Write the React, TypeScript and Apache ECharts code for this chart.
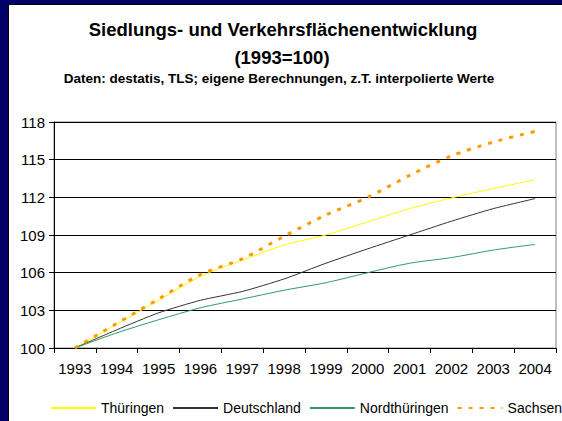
import React, { useEffect, useRef } from "react";
import * as echarts from "echarts";

const years = ["1993", "1994", "1995", "1996", "1997", "1998", "1999", "2000", "2001", "2002", "2003", "2004"];
const thueringen = [100, 101.9, 103.8, 105.7, 107.0, 108.2, 109.0, 110.05, 111.1, 111.95, 112.7, 113.4];
const deutschland = [100, 101.45, 102.8, 103.8, 104.5, 105.5, 106.75, 107.9, 109.0, 110.1, 111.1, 111.9];
const nordthueringen = [100, 101.2, 102.25, 103.2, 103.9, 104.6, 105.2, 106.0, 106.75, 107.2, 107.8, 108.25];
const sachsen = [100, 101.95, 103.9, 105.85, 107.1, 108.9, 110.6, 112.0, 113.75, 115.3, 116.4, 117.25];
const yTicks = { min: 100, max: 118, interval: 3 };

const FONT = "Arial, 'Liberation Sans', Helvetica, sans-serif";

export default function App() {
  const ref = useRef<HTMLDivElement>(null);
  useEffect(() => {
    document.body.style.margin = "0";
    document.body.style.overflow = "hidden";
    const chart = echarts.init(ref.current!, undefined, { renderer: "svg" });
    chart.setOption({
      animation: false,
      textStyle: { fontFamily: FONT },
      title: [
        {
          text: "Siedlungs- und Verkehrsflächenentwicklung",
          left: 283,
          top: 20,
          padding: 0,
          textAlign: "center",
          textStyle: { fontSize: 18.5, fontWeight: "bold", color: "#000", fontFamily: FONT },
        },
        {
          text: "(1993=100)",
          left: 282,
          top: 48,
          padding: 0,
          textAlign: "center",
          textStyle: { fontSize: 18.5, fontWeight: "bold", color: "#000", fontFamily: FONT },
        },
        {
          text: "Daten: destatis, TLS; eigene Berechnungen, z.T. interpolierte Werte",
          left: 279,
          top: 71,
          padding: 0,
          textAlign: "center",
          textStyle: { fontSize: 13.5, fontWeight: "bold", color: "#000", fontFamily: FONT },
        },
      ],
      legend: {
        left: 50,
        top: 401,
        padding: 0,
        width: 900,
        itemWidth: 45,
        itemHeight: 14,
        itemGap: 8,
        itemStyle: { opacity: 0 },
        textStyle: { fontSize: 14, color: "#000", fontFamily: FONT },
        data: ["Thüringen", "Deutschland", "Nordthüringen", "Sachsen"],
      },
      grid: {
        left: 54,
        right: 6,
        top: 122,
        bottom: 73,
        show: true,
        borderColor: "#808080",
        borderWidth: 1,
        backgroundColor: "transparent",
      },
      xAxis: {
        type: "category",
        data: years,
        boundaryGap: true,
        axisLine: { lineStyle: { color: "#000", width: 1 } },
        axisTick: { show: true, length: 5, lineStyle: { color: "#000" } },
        axisLabel: { fontSize: 15, color: "#000", margin: 13, fontFamily: FONT, interval: 0 },
      },
      yAxis: {
        type: "value",
        min: yTicks.min,
        max: yTicks.max,
        interval: yTicks.interval,
        axisLine: { show: true, lineStyle: { color: "#000", width: 1 } },
        axisTick: { show: true, length: 5, lineStyle: { color: "#000" } },
        axisLabel: { fontSize: 15, color: "#000", margin: 9, fontFamily: FONT },
        splitLine: { show: true, lineStyle: { color: "#000", width: 1 } },
      },
      series: [
        {
          name: "Thüringen",
          type: "line",
          data: thueringen,
          symbol: "none",
          smooth: 0.3,
          lineStyle: { color: "#ffff00", width: 1 },
          itemStyle: { color: "#ffff00" },
          z: 3,
        },
        {
          name: "Deutschland",
          type: "line",
          data: deutschland,
          symbol: "none",
          smooth: 0.2,
          lineStyle: { color: "#333333", width: 1 },
          itemStyle: { color: "#333333" },
          z: 3,
        },
        {
          name: "Nordthüringen",
          type: "line",
          data: nordthueringen,
          symbol: "none",
          smooth: 0.3,
          lineStyle: { color: "#339966", width: 1 },
          itemStyle: { color: "#339966" },
          z: 3,
        },
        {
          name: "Sachsen",
          type: "line",
          data: sachsen,
          symbol: "none",
          smooth: 0.3,
          lineStyle: { color: "#ff9900", width: 3, type: [4, 7] },
          itemStyle: { color: "#ff9900" },
          z: 4,
        },
      ],
    });
    return () => chart.dispose();
  }, []);

  return (
    <div style={{ position: "fixed", left: 0, top: 0, width: 562, height: 421, background: "#000066", overflow: "hidden" }}>
      <div
        style={{
          position: "absolute",
          left: 8,
          top: 4,
          width: 600,
          height: 460,
          background: "#fff",
          borderLeft: "1px solid #000",
          borderTop: "1px solid #000",
          boxSizing: "border-box",
        }}
      />
      <div ref={ref} style={{ position: "absolute", left: 0, top: 0, width: 562, height: 421 }} />
    </div>
  );
}
